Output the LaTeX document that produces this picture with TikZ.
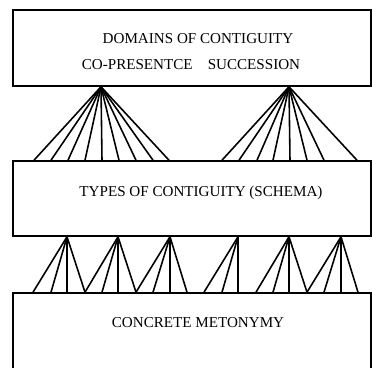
\documentclass[tikz,border=0pt]{standalone}
\usepackage{fontspec}
\setmainfont{Liberation Serif}
\usepackage{tikz}
\usetikzlibrary{positioning}

\tikzset{
  box/.style={draw, line width=0.9pt, minimum width=7.16cm, inner sep=0pt},
  lbl/.style={font=\fontsize{8.6}{10}\selectfont, inner sep=0pt},
  fan/.style={line width=0.9pt}
}

\begin{document}
\begin{tikzpicture}[x=0.02cm,y=-0.02cm]
\path[use as bounding box, clip] (0,0) rectangle (372,368);

% Define nodes
\node[box, minimum height=1.52cm] (dom) at (192,48) {};
\node[box, minimum height=1.5cm] (types) at (192,198.5) {};
\node[box, minimum height=2.54cm] (met) at (192,356.5) {};

\node[lbl] (domtitle) at (198,39) {DOMAINS OF CONTIGUITY};
\node[lbl] (domsub) at (191,65) {CO-PRESENTCE\quad SUCCESSION};
\node[lbl] (typestitle) at (201,193) {TYPES OF CONTIGUITY (SCHEMA)};
\node[lbl] (mettitle) at (198,323) {CONCRETE METONYMY};

% Apexes
\coordinate (co) at (dom.south -| 101,0);
\coordinate (su) at (dom.south -| 289,0);
\foreach \n/\x in {t1/67,t2/118,t3/170,t4/238,t5/289,t6/341}
  \coordinate (\n) at (types.south -| \x,0);

% Connect the nodes
\foreach \x in {34,51,68,85,102,119,136,153,169}
  \draw[fan] (co) -- (types.north -| \x,0);
\foreach \x in {222,239,257,273,290,307,324,357}
  \draw[fan] (su) -- (types.north -| \x,0);

\foreach \x in {33,51,67,85}
  \draw[fan] (t1) -- (met.north -| \x,0);
\foreach \x in {85,102,118,136}
  \draw[fan] (t2) -- (met.north -| \x,0);
\foreach \x in {136,153,170,187}
  \draw[fan] (t3) -- (met.north -| \x,0);
\foreach \x in {204,222,238}
  \draw[fan] (t4) -- (met.north -| \x,0);
\foreach \x in {256,273,289,307}
  \draw[fan] (t5) -- (met.north -| \x,0);
\foreach \x in {307,324,341,358}
  \draw[fan] (t6) -- (met.north -| \x,0);
\end{tikzpicture}
\end{document}
